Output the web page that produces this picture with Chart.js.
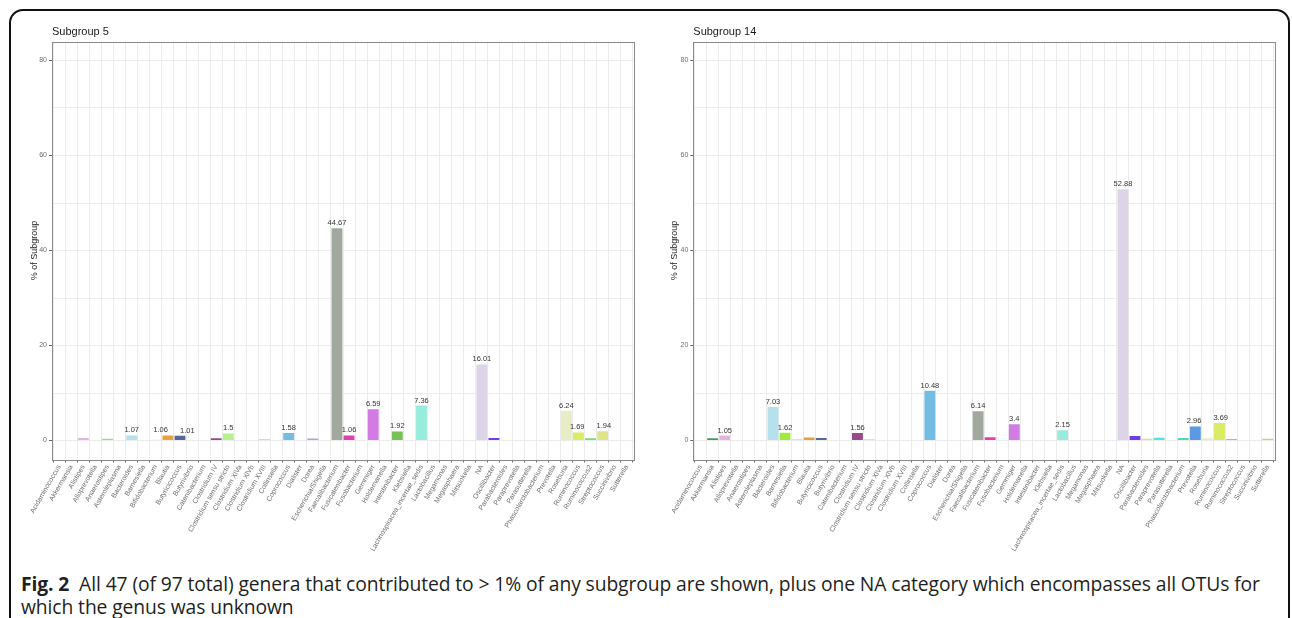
<!DOCTYPE html>
<html>
<head>
<meta charset="utf-8">
<script src="https://cdn.jsdelivr.net/npm/chart.js@4.4.1/dist/chart.umd.min.js"></script>
<style>
  html, body { margin: 0; padding: 0; background: #fff; width: 1292px; height: 618px; overflow: hidden; position: relative; }
  #frame { position: absolute; left: 9px; top: 9px; width: 1281px; height: 700px; box-sizing: border-box; border: 2px solid #111; border-radius: 14px; }
  canvas { position: absolute; top: 0; }
  #c1 { left: 0; }
  #c2 { left: 640px; }
  #caption { position: absolute; left: 21px; top: 572px; font-family: "Open Sans", sans-serif; font-size: 19.3px; line-height: 23px; color: #231f20; white-space: nowrap; letter-spacing: -0.1px; }
  #caption b { font-weight: 700; }
</style>
</head>
<body>
<div id="frame"></div>
<canvas id="c1" width="660" height="570" style="width:660px;height:570px"></canvas>
<canvas id="c2" width="652" height="570" style="width:652px;height:570px"></canvas>
<div id="caption"><b>Fig. 2</b>&nbsp; All 47 (of 97 total) genera that contributed to &gt; 1% of any subgroup are shown, plus one NA category which encompasses all OTUs for<br>which the genus was unknown</div>
<script>
const categories = ["Acidaminococcus","Akkermansia","Alistipes","Alloprevotella","Anaerostipes","Asteroleplasma","Bacteroides","Barnesiella","Bifidobacterium","Blautia","Butyricicoccus","Butyrivibrio","Catenibacterium","Clostridium IV","Clostridium sensu stricto","Clostridium XlVa","Clostridium XlVb","Clostridium XVIII","Collinsella","Coprococcus","Dialister","Dorea","Escherichia/Shigella","Faecalibacterium","Fusicatenibacter","Fusobacterium","Gemmiger","Holdemanella","Intestinibacter","Klebsiella","Lachnospiracea_incertae_sedis","Lactobacillus","Megamonas","Megasphaera","Mitsuokella","NA","Oscillibacter","Parabacteroides","Paraprevotella","Parasutterella","Phascolarctobacterium","Prevotella","Roseburia","Ruminococcus","Ruminococcus2","Streptococcus","Succinivibrio","Sutterella"];

const subgroup5 = [0,0,0.55,0,0.35,0,1.07,0,0.15,1.06,1.01,0,0,0.5,1.5,0,0,0.2,0,1.58,0,0.4,0,44.67,1.06,0,6.59,0,1.92,0,7.36,0,0,0,0,16.01,0.55,0,0,0,0,0,6.24,1.69,0.5,1.94,0,0];

const subgroup14 = [0,0.45,1.05,0,0,0,7.03,1.62,0.3,0.65,0.55,0,0,1.56,0.25,0,0,0,0,10.48,0,0,0,6.14,0.7,0,3.4,0,0,0,2.15,0,0,0,0,52.88,0.95,0.35,0.6,0,0.55,2.96,0.5,3.69,0.3,0,0,0.35];

const yTicks = [0,10,20,30,40,50,60,70,80];
const yLabelTicks = [0,20,40,60,80];

const genusColors = ["#888888","#3f9c5c","#e6b3df","#888888","#8fe08f","#888888","#b5e1ec","#a3e83e","#c9f2c6","#e3a23f","#56689a","#888888","#888888","#964a8a","#b9f08e","#888888","#888888","#f29080","#888888","#74bde2","#888888","#b2a0e2","#888888","#a1a89d","#e23fb3","#888888","#d27be2","#888888","#77c157","#888888","#98ecdc","#888888","#888888","#888888","#888888","#ddd4e8","#6f3fe0","#d7e86a","#4fe0e8","#888888","#52d9b0","#5b9ae2","#e9edc6","#d9ec62","#6ee36e","#dfe48b","#888888","#e2c65e"];

const FONT = "'Liberation Sans', Arial, sans-serif";

const decorPlugin = {
  id: 'decor',
  beforeDraw(chart) {
    const ctx = chart.ctx;
    ctx.save();
    ctx.fillStyle = '#ffffff';
    ctx.fillRect(chart.chartArea.left, chart.chartArea.top, chart.chartArea.width, chart.chartArea.height);
    ctx.restore();
  },
  afterDatasetsDraw(chart, args, opts) {
    const ctx = chart.ctx;
    const a = chart.chartArea;
    ctx.save();
    ctx.strokeStyle = '#8a8a8a';
    ctx.lineWidth = 1;
    ctx.strokeRect(Math.round(a.left) + 0.5, Math.round(a.top) + 0.5, Math.round(a.right) - Math.round(a.left), Math.round(a.bottom) - Math.round(a.top));
    ctx.fillStyle = '#1a1a1a';
    ctx.font = "11px " + FONT;
    ctx.textAlign = 'left';
    ctx.textBaseline = 'alphabetic';
    ctx.fillText(opts.title, a.left, a.top - 7);
    ctx.save();
    ctx.translate(opts.yTitleX, (a.top + a.bottom) / 2);
    ctx.rotate(-Math.PI / 2);
    ctx.font = "9px " + FONT;
    ctx.textAlign = 'center';
    ctx.textBaseline = 'middle';
    ctx.fillText('% of Subgroup', 0, 0);
    ctx.restore();
    const meta = chart.getDatasetMeta(0);
    const data = chart.data.datasets[0].data;
    ctx.font = "7.5px " + FONT;
    const labels = [];
    meta.data.forEach((el, i) => {
      const v = data[i].y;
      if (v >= 1) {
        const txt = String(v);
        labels.push({ txt, x: el.x, y: el.y - 3, w: ctx.measureText(txt).width });
      }
    });
    labels.sort((p, q) => p.x - q.x);
    for (let iter = 0; iter < 5; iter++) {
      for (let i = 0; i < labels.length - 1; i++) {
        const p = labels[i], q = labels[i + 1];
        if (Math.abs(p.y - q.y) < 8) {
          const need = (p.w + q.w) / 2 + 12;
          const d = q.x - p.x;
          if (d < need) {
            const shift = (need - d) / 2;
            p.x -= shift; q.x += shift;
          }
        }
      }
    }
    ctx.fillStyle = '#333333';
    ctx.textAlign = 'center';
    ctx.textBaseline = 'alphabetic';
    labels.forEach(l => ctx.fillText(l.txt, l.x, l.y));
    ctx.restore();
  }
};

function makeChart(id, title, values, yWidth, padRight, yTitleX) {
  const points = values.map((v, i) => ({ x: i, y: v }));
  return new Chart(document.getElementById(id), {
    type: 'bar',
    data: {
      datasets: [{
        data: points,
        backgroundColor: genusColors,
        borderWidth: 0,
        barPercentage: 0.9,
        categoryPercentage: 1.0
      }]
    },
    plugins: [decorPlugin],
    options: {
      responsive: false,
      animation: false,
      devicePixelRatio: 1,
      layout: { padding: { left: 0, top: 41.5, right: padRight, bottom: 10.5 } },
      plugins: {
        legend: { display: false },
        tooltip: { enabled: false },
        title: { display: false },
        decor: { title: title, yTitleX: yTitleX }
      },
      scales: {
        x: {
          type: 'linear',
          min: -0.6,
          max: categories.length - 1 + 0.6,
          offset: false,
          afterBuildTicks: s => { s.ticks = categories.map((c, i) => ({ value: i })); },
          afterFit: s => { s.height = 100; },
          ticks: {
            autoSkip: false,
            maxRotation: 60,
            minRotation: 60,
            padding: 1,
            color: '#6e6e6e',
            font: { size: 7, family: FONT },
            callback: v => categories[v]
          },
          grid: { color: '#ececec', lineWidth: 1, tickLength: 3, tickColor: '#666', drawTicks: true },
          border: { display: false }
        },
        y: {
          min: -4,
          max: 84,
          afterBuildTicks: s => { s.ticks = yTicks.map(v => ({ value: v })); },
          afterFit: s => { s.width = yWidth; },
          ticks: {
            padding: 2,
            color: '#6e6e6e',
            font: { size: 7, family: FONT },
            callback: v => yLabelTicks.includes(v) ? String(v) : ''
          },
          grid: {
            color: '#ececec',
            lineWidth: 1,
            tickLength: 3,
            tickColor: c => (c.tick && yLabelTicks.includes(c.tick.value)) ? '#666' : 'rgba(0,0,0,0)'
          },
          border: { display: false }
        }
      }
    }
  });
}

makeChart('c1', 'Subgroup 5', subgroup5, 52, 26, 35);
makeChart('c2', 'Subgroup 14', subgroup14, 53.3, 17, 35);
</script>
</body>
</html>
